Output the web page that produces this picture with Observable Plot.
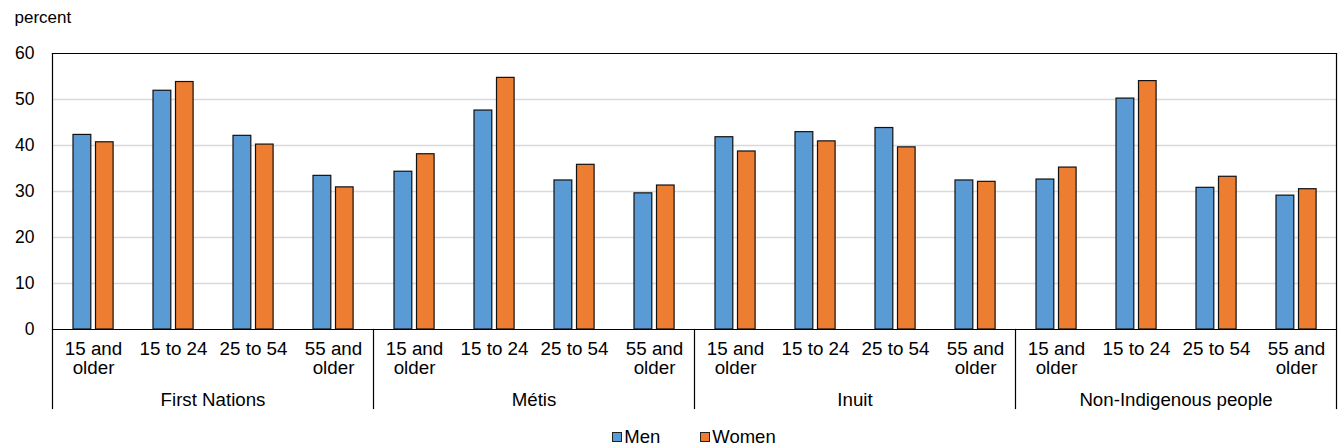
<!DOCTYPE html>
<html>
<head>
<meta charset="utf-8">
<script src="https://cdn.jsdelivr.net/npm/d3@7"></script>
<script src="https://cdn.jsdelivr.net/npm/@observablehq/plot@0.6"></script>
<style>
  body { margin: 0; background: #fff; }
  #chart { width: 1339px; font-family: "Liberation Sans", Arial, sans-serif; }
  .legend { display: flex; justify-content: center; gap: 40px; padding-left: 49px; margin-top: 9px; font-size: 18.5px; line-height: 20px; color: #000; }
  .legend span.item { display: flex; align-items: center; }
  .legend span.sw { display: inline-block; width: 8px; height: 8px; border: 1px solid #222; margin-right: 2px; }
</style>
</head>
<body>
<div id="chart"></div>
<script>
const groups = ["First Nations", "Métis", "Inuit", "Non-Indigenous people"];
const ages = ["15 and older", "15 to 24", "25 to 54", "55 and older"];
const ageLabels = ["15 and\nolder", "15 to 24", "25 to 54", "55 and\nolder"];
const series = ["Men", "Women"];
const colors = ["#5b9bd5", "#ed7d31"];
const menValues = [
  [42.3, 51.9, 42.1, 33.4],
  [34.3, 47.6, 32.4, 29.6],
  [41.8, 42.9, 43.8, 32.4],
  [32.6, 50.2, 30.8, 29.1]
];
const womenValues = [
  [40.7, 53.8, 40.2, 30.9],
  [38.1, 54.7, 35.8, 31.3],
  [38.7, 40.9, 39.6, 32.1],
  [35.2, 54.0, 33.2, 30.5]
];
const yTicks = [0, 10, 20, 30, 40, 50, 60];
const yLabel = "percent";

const rows = groups.flatMap((g, gi) => ages.map((a, ai) => ({
  group: g, age: a, Men: menValues[gi][ai], Women: womenValues[gi][ai]
})));

const W = 1339, H = 418;
const mTop = 53, mBottom = H - 329, mLeft = 51, mRight = 2;
const innerH = H - mTop - mBottom;
const font = "'Liberation Sans', Arial, sans-serif";

const plot = Plot.plot({
  width: W,
  height: H,
  marginTop: mTop,
  marginBottom: mBottom,
  marginLeft: mLeft,
  marginRight: mRight,
  style: { fontFamily: font, fontSize: "18.5px", color: "#000", background: "#fff", overflow: "visible" },
  fx: { domain: groups, padding: 0, axis: null },
  x: { domain: ages, padding: 0, axis: null },
  y: { domain: [0, 60], axis: null },
  marks: [
    Plot.gridY(yTicks.filter(t => t > 0 && t < 60), { stroke: "#d9d9d9", strokeOpacity: 1, strokeWidth: 1.5 }),
    Plot.barY(rows, { fx: "group", x: "age", y: series[0], fill: colors[0], stroke: "#111", strokeWidth: 1.2, insetLeft: 20, insetRight: 42.2 }),
    Plot.barY(rows, { fx: "group", x: "age", y: series[1], fill: colors[1], stroke: "#111", strokeWidth: 1.2, insetLeft: 42.5, insetRight: 19.9 }),
    Plot.ruleY([0], { stroke: "#000", strokeWidth: 1.2 }),
    Plot.frame({ anchor: "top", stroke: "#000", strokeWidth: 1.2 }),
    Plot.frame({ anchor: "left", facetAnchor: "left", stroke: "#000", strokeWidth: 1.2 }),
    Plot.frame({ anchor: "right", facetAnchor: "right", stroke: "#000", strokeWidth: 1.2 }),
    Plot.frame({ anchor: "left", insetTop: innerH, insetBottom: -79, stroke: "#000", strokeWidth: 1.2 }),
    Plot.frame({ anchor: "right", facetAnchor: "right", insetTop: innerH, insetBottom: -79, stroke: "#000", strokeWidth: 1.2 }),
    Plot.axisY({ ticks: yTicks, tickSize: 0, tickPadding: 18, fontSize: 17.5, label: null }),
    Plot.axisX({ tickSize: 0, tickPadding: 11, fontSize: 18.8, label: null, lineHeight: 1.05,
      tickFormat: d => ageLabels[ages.indexOf(d)] }),
    Plot.text(groups, { fx: d => d, text: d => d, frameAnchor: "bottom", lineAnchor: "middle", dy: 71, fontSize: 18.7 }),
    Plot.text([yLabel], { fx: d => groups[0], text: d => d, frameAnchor: "top-left", textAnchor: "start", lineAnchor: "middle", dx: -38, dy: -36, fontSize: 17 })
  ]
});

const chart = document.getElementById("chart");
chart.appendChild(plot);

const legend = document.createElement("div");
legend.className = "legend";
series.forEach((s, i) => {
  const item = document.createElement("span");
  item.className = "item";
  const sw = document.createElement("span");
  sw.className = "sw";
  sw.style.background = colors[i];
  item.appendChild(sw);
  item.appendChild(document.createTextNode(s));
  legend.appendChild(item);
});
chart.appendChild(legend);
</script>
</body>
</html>
